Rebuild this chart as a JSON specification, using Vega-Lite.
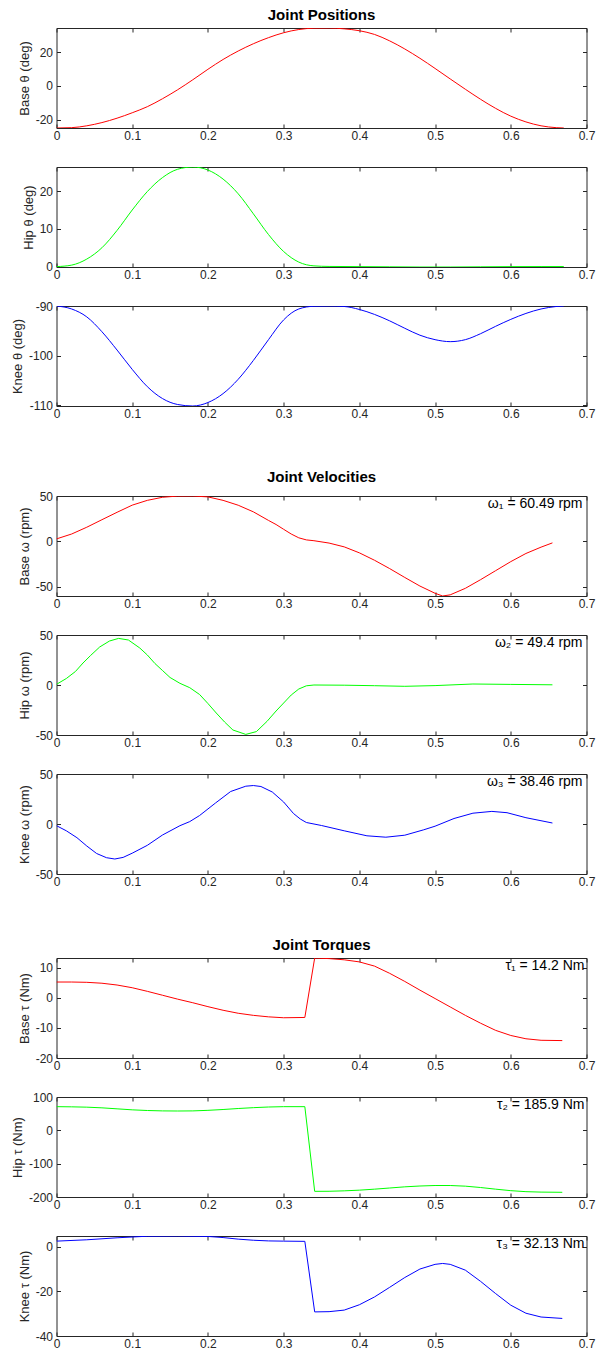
{
"$schema": "https://vega.github.io/schema/vega-lite/v6.json",
"background": "white",
"padding": {"left": 10.5, "top": 7, "right": 0, "bottom": 0},
"config": {
  "font": "Liberation Sans",
  "view": {"stroke": "#262626", "strokeWidth": 1},
  "axis": {"domain": false, "grid": false, "tickSize": -4, "tickColor": "#262626", "labelColor": "#262626", "labelFont": "Liberation Sans", "labelFontSize": 12, "titleFont": "Liberation Sans", "titleFontSize": 13, "titleFontWeight": "normal", "titleColor": "#262626", "labelPadding": 8, "titlePadding": 4, "labelFlush": false, "labelOverlap": false},
  "axisBottom": {"labelPadding": 6},
  "title": {"font": "Liberation Sans", "fontSize": 15, "fontWeight": "bold", "color": "#000000", "offset": 5, "anchor": "middle"},
  "text": {"font": "Liberation Sans", "fontSize": 14, "color": "#000000"}
},
"datasets": {
  "bp": [{"t":0,"v":-24.9},{"t":0.02,"v":-24.7},{"t":0.04,"v":-23.6},{"t":0.06,"v":-21.7},{"t":0.08,"v":-19.1},{"t":0.1,"v":-15.9},{"t":0.12,"v":-12.3},{"t":0.14,"v":-7.6},{"t":0.16,"v":-2.3},{"t":0.18,"v":3.6},{"t":0.2,"v":9.8},{"t":0.22,"v":15.6},{"t":0.24,"v":20.6},{"t":0.26,"v":24.9},{"t":0.28,"v":28.5},{"t":0.3,"v":31.4},{"t":0.32,"v":33.3},{"t":0.34,"v":34.1},{"t":0.36,"v":34.2},{"t":0.38,"v":33.7},{"t":0.4,"v":32.6},{"t":0.42,"v":30.4},{"t":0.44,"v":26.6},{"t":0.46,"v":21.8},{"t":0.48,"v":16.3},{"t":0.5,"v":10.3},{"t":0.52,"v":4.1},{"t":0.54,"v":-2},{"t":0.56,"v":-7.9},{"t":0.58,"v":-13.3},{"t":0.6,"v":-17.9},{"t":0.62,"v":-21.3},{"t":0.64,"v":-23.6},{"t":0.66,"v":-24.7},{"t":0.67,"v":-24.9}],
  "hp": [{"t":0,"v":0},{"t":0.02,"v":0.4},{"t":0.04,"v":2},{"t":0.06,"v":5},{"t":0.08,"v":9.6},{"t":0.1,"v":15},{"t":0.12,"v":19.9},{"t":0.14,"v":23.6},{"t":0.16,"v":25.8},{"t":0.18,"v":26.4},{"t":0.2,"v":25.6},{"t":0.22,"v":23.2},{"t":0.24,"v":19.3},{"t":0.26,"v":14},{"t":0.28,"v":8.5},{"t":0.3,"v":4},{"t":0.32,"v":1.2},{"t":0.34,"v":0.2},{"t":0.36,"v":0.05},{"t":0.4,"v":0},{"t":0.44,"v":-0.05},{"t":0.48,"v":-0.1},{"t":0.52,"v":-0.1},{"t":0.56,"v":-0.05},{"t":0.6,"v":0},{"t":0.64,"v":0.02},{"t":0.67,"v":0.02}],
  "kp": [{"t":0,"v":-90},{"t":0.02,"v":-90.6},{"t":0.04,"v":-92.2},{"t":0.06,"v":-95.2},{"t":0.08,"v":-98.9},{"t":0.1,"v":-102.8},{"t":0.12,"v":-106.3},{"t":0.14,"v":-108.7},{"t":0.16,"v":-109.9},{"t":0.18,"v":-110.2},{"t":0.2,"v":-109.5},{"t":0.22,"v":-107.7},{"t":0.24,"v":-104.8},{"t":0.26,"v":-101},{"t":0.28,"v":-96.8},{"t":0.3,"v":-92.8},{"t":0.32,"v":-90.6},{"t":0.34,"v":-90.05},{"t":0.36,"v":-90},{"t":0.38,"v":-90.1},{"t":0.4,"v":-90.7},{"t":0.42,"v":-91.7},{"t":0.44,"v":-93},{"t":0.46,"v":-94.5},{"t":0.48,"v":-95.9},{"t":0.5,"v":-96.8},{"t":0.52,"v":-97.2},{"t":0.54,"v":-96.8},{"t":0.56,"v":-95.6},{"t":0.58,"v":-94.1},{"t":0.6,"v":-92.7},{"t":0.62,"v":-91.5},{"t":0.64,"v":-90.6},{"t":0.66,"v":-90.1},{"t":0.67,"v":-90}],
  "bv": [{"t":0,"v":2.6},{"t":0.02,"v":8},{"t":0.04,"v":15.5},{"t":0.06,"v":23.8},{"t":0.08,"v":32},{"t":0.1,"v":39.9},{"t":0.12,"v":45.2},{"t":0.14,"v":48.6},{"t":0.16,"v":49.9},{"t":0.18,"v":50},{"t":0.2,"v":49},{"t":0.22,"v":45.2},{"t":0.24,"v":39.8},{"t":0.26,"v":32.5},{"t":0.28,"v":23},{"t":0.29,"v":18.5},{"t":0.3,"v":13.2},{"t":0.31,"v":8},{"t":0.32,"v":3.8},{"t":0.33,"v":1.5},{"t":0.34,"v":0.6},{"t":0.36,"v":-2},{"t":0.38,"v":-6.2},{"t":0.4,"v":-12.8},{"t":0.42,"v":-21},{"t":0.44,"v":-30.2},{"t":0.46,"v":-40},{"t":0.48,"v":-49.5},{"t":0.5,"v":-57.5},{"t":0.51,"v":-60.49},{"t":0.52,"v":-59.2},{"t":0.54,"v":-52},{"t":0.56,"v":-42.5},{"t":0.58,"v":-32.5},{"t":0.6,"v":-22.5},{"t":0.62,"v":-13.5},{"t":0.64,"v":-6.5},{"t":0.655,"v":-1.8}],
  "hv": [{"t":0,"v":0.7},{"t":0.013,"v":6.5},{"t":0.025,"v":13.5},{"t":0.035,"v":22},{"t":0.045,"v":29.5},{"t":0.057,"v":38},{"t":0.07,"v":44},{"t":0.082,"v":46.6},{"t":0.095,"v":45},{"t":0.11,"v":37},{"t":0.12,"v":30},{"t":0.13,"v":21.5},{"t":0.14,"v":14.5},{"t":0.15,"v":7.5},{"t":0.163,"v":1.7},{"t":0.176,"v":-2.7},{"t":0.189,"v":-9.5},{"t":0.2,"v":-18.5},{"t":0.211,"v":-28},{"t":0.222,"v":-37},{"t":0.233,"v":-45},{"t":0.25,"v":-49.4},{"t":0.264,"v":-46.6},{"t":0.278,"v":-36.4},{"t":0.29,"v":-26},{"t":0.3,"v":-18},{"t":0.31,"v":-10},{"t":0.32,"v":-4},{"t":0.33,"v":-0.8},{"t":0.34,"v":0},{"t":0.38,"v":-0.2},{"t":0.42,"v":-0.7},{"t":0.46,"v":-1.3},{"t":0.5,"v":-0.6},{"t":0.55,"v":1},{"t":0.6,"v":0.6},{"t":0.655,"v":0.2}],
  "kv": [{"t":0,"v":-1.7},{"t":0.013,"v":-6.8},{"t":0.027,"v":-13.7},{"t":0.04,"v":-22},{"t":0.053,"v":-29.5},{"t":0.066,"v":-33.7},{"t":0.077,"v":-35},{"t":0.088,"v":-33.4},{"t":0.1,"v":-29.2},{"t":0.12,"v":-21.3},{"t":0.14,"v":-11},{"t":0.163,"v":-1.7},{"t":0.176,"v":2.4},{"t":0.189,"v":8.5},{"t":0.21,"v":21},{"t":0.23,"v":32.5},{"t":0.25,"v":37.8},{"t":0.26,"v":38.46},{"t":0.27,"v":37.5},{"t":0.285,"v":32},{"t":0.3,"v":22},{"t":0.313,"v":10.5},{"t":0.322,"v":5},{"t":0.33,"v":1.5},{"t":0.35,"v":-1.5},{"t":0.38,"v":-6.8},{"t":0.41,"v":-11.8},{"t":0.435,"v":-13.2},{"t":0.46,"v":-11.2},{"t":0.485,"v":-5.8},{"t":0.5,"v":-2.2},{"t":0.525,"v":5.5},{"t":0.55,"v":10.8},{"t":0.575,"v":12.6},{"t":0.595,"v":11.3},{"t":0.62,"v":6.3},{"t":0.655,"v":1}],
  "bt": [{"t":0,"v":5.3},{"t":0.02,"v":5.3},{"t":0.04,"v":5.2},{"t":0.06,"v":4.9},{"t":0.08,"v":4.3},{"t":0.1,"v":3.4},{"t":0.12,"v":2.2},{"t":0.14,"v":0.9},{"t":0.16,"v":-0.4},{"t":0.18,"v":-1.6},{"t":0.2,"v":-2.9},{"t":0.22,"v":-4.1},{"t":0.24,"v":-5.1},{"t":0.26,"v":-5.8},{"t":0.28,"v":-6.3},{"t":0.3,"v":-6.6},{"t":0.328,"v":-6.5},{"t":0.341,"v":13.3},{"t":0.36,"v":13.1},{"t":0.38,"v":12.7},{"t":0.4,"v":12},{"t":0.42,"v":10.6},{"t":0.44,"v":8.2},{"t":0.46,"v":5.5},{"t":0.48,"v":2.6},{"t":0.5,"v":-0.2},{"t":0.52,"v":-3},{"t":0.54,"v":-5.8},{"t":0.56,"v":-8.4},{"t":0.58,"v":-10.8},{"t":0.6,"v":-12.5},{"t":0.62,"v":-13.6},{"t":0.64,"v":-14.1},{"t":0.668,"v":-14.2}],
  "ht": [{"t":0,"v":71},{"t":0.02,"v":70.5},{"t":0.04,"v":69.5},{"t":0.06,"v":67.5},{"t":0.08,"v":64.5},{"t":0.1,"v":61.5},{"t":0.12,"v":59.5},{"t":0.14,"v":58.3},{"t":0.16,"v":58},{"t":0.18,"v":58.3},{"t":0.2,"v":60},{"t":0.22,"v":62.5},{"t":0.24,"v":65.5},{"t":0.26,"v":68},{"t":0.28,"v":70},{"t":0.3,"v":71},{"t":0.328,"v":71},{"t":0.341,"v":-183},{"t":0.36,"v":-182.8},{"t":0.38,"v":-181.5},{"t":0.4,"v":-179.5},{"t":0.42,"v":-176.5},{"t":0.44,"v":-173},{"t":0.46,"v":-169.5},{"t":0.48,"v":-167},{"t":0.5,"v":-165.5},{"t":0.52,"v":-165.5},{"t":0.54,"v":-167.5},{"t":0.56,"v":-171.5},{"t":0.58,"v":-176.5},{"t":0.6,"v":-181},{"t":0.62,"v":-184},{"t":0.64,"v":-185.3},{"t":0.668,"v":-185.9}],
  "kt": [{"t":0,"v":2.5},{"t":0.04,"v":3.1},{"t":0.08,"v":4},{"t":0.12,"v":4.7},{"t":0.16,"v":4.8},{"t":0.2,"v":4.6},{"t":0.22,"v":4.1},{"t":0.24,"v":3.4},{"t":0.26,"v":2.9},{"t":0.28,"v":2.6},{"t":0.3,"v":2.5},{"t":0.328,"v":2.4},{"t":0.341,"v":-29.2},{"t":0.36,"v":-29.1},{"t":0.38,"v":-28.4},{"t":0.4,"v":-26},{"t":0.42,"v":-22.5},{"t":0.44,"v":-18.2},{"t":0.46,"v":-13.8},{"t":0.48,"v":-10},{"t":0.5,"v":-7.9},{"t":0.51,"v":-7.5},{"t":0.52,"v":-7.9},{"t":0.54,"v":-10.5},{"t":0.56,"v":-15.5},{"t":0.58,"v":-21},{"t":0.6,"v":-26.2},{"t":0.62,"v":-29.8},{"t":0.64,"v":-31.5},{"t":0.668,"v":-32.13}]
},
"spacing": 49,
"vconcat": [
 {"bounds": "flush", "spacing": 39, "vconcat": [
  {"width": 530, "height": 100, "title": "Joint Positions", "data": {"name": "bp"},
   "layer": [
    {"mark": {"type": "line", "color": "#ff0000", "strokeWidth": 1, "clip": true, "interpolate": "monotone"},
     "encoding": {"x": {"field": "t", "type": "quantitative", "scale": {"domain": [0, 0.7], "nice": false, "zero": false}, "axis": {"orient": "bottom", "values": [0,0.1,0.2,0.3,0.4,0.5,0.6,0.7], "labelExpr": "'' + datum.value", "title": null}},
                  "y": {"field": "v", "type": "quantitative", "scale": {"domain": [-24.9, 34.2], "nice": false, "zero": false}, "axis": {"orient": "left", "values": [-20,0,20], "labelExpr": "'' + datum.value", "title": "Base θ (deg)"}}}},
    {"mark": {"type": "line", "opacity": 0},
     "encoding": {"x": {"field": "t", "type": "quantitative", "axis": {"orient": "top", "values": [0,0.1,0.2,0.3,0.4,0.5,0.6,0.7], "labels": false, "title": null}},
                  "y": {"field": "v", "type": "quantitative", "axis": {"orient": "right", "values": [-20,0,20], "labels": false, "title": null}}}}
   ],
   "resolve": {"axis": {"x": "independent", "y": "independent"}}},
  {"width": 530, "height": 100, "data": {"name": "hp"},
   "layer": [
    {"mark": {"type": "line", "color": "#00ff00", "strokeWidth": 1, "clip": true, "interpolate": "monotone"},
     "encoding": {"x": {"field": "t", "type": "quantitative", "scale": {"domain": [0, 0.7], "nice": false, "zero": false}, "axis": {"orient": "bottom", "values": [0,0.1,0.2,0.3,0.4,0.5,0.6,0.7], "labelExpr": "'' + datum.value", "title": null}},
                  "y": {"field": "v", "type": "quantitative", "scale": {"domain": [-0.1, 26.4], "nice": false, "zero": false}, "axis": {"orient": "left", "values": [0,10,20], "labelExpr": "'' + datum.value", "title": "Hip θ (deg)"}}}},
    {"mark": {"type": "line", "opacity": 0},
     "encoding": {"x": {"field": "t", "type": "quantitative", "axis": {"orient": "top", "values": [0,0.1,0.2,0.3,0.4,0.5,0.6,0.7], "labels": false, "title": null}},
                  "y": {"field": "v", "type": "quantitative", "axis": {"orient": "right", "values": [0,10,20], "labels": false, "title": null}}}}
   ],
   "resolve": {"axis": {"x": "independent", "y": "independent"}}},
  {"width": 530, "height": 100, "data": {"name": "kp"},
   "layer": [
    {"mark": {"type": "line", "color": "#0000ff", "strokeWidth": 1, "clip": true, "interpolate": "monotone"},
     "encoding": {"x": {"field": "t", "type": "quantitative", "scale": {"domain": [0, 0.7], "nice": false, "zero": false}, "axis": {"orient": "bottom", "values": [0,0.1,0.2,0.3,0.4,0.5,0.6,0.7], "labelExpr": "'' + datum.value", "title": null}},
                  "y": {"field": "v", "type": "quantitative", "scale": {"domain": [-110.2, -90], "nice": false, "zero": false}, "axis": {"orient": "left", "values": [-110,-100,-90], "labelExpr": "'' + datum.value", "title": "Knee θ (deg)"}}}},
    {"mark": {"type": "line", "opacity": 0},
     "encoding": {"x": {"field": "t", "type": "quantitative", "axis": {"orient": "top", "values": [0,0.1,0.2,0.3,0.4,0.5,0.6,0.7], "labels": false, "title": null}},
                  "y": {"field": "v", "type": "quantitative", "axis": {"orient": "right", "values": [-110,-100,-90], "labels": false, "title": null}}}}
   ],
   "resolve": {"axis": {"x": "independent", "y": "independent"}}}
 ]},
 {"bounds": "flush", "spacing": 39, "vconcat": [
  {"width": 530, "height": 100, "title": "Joint Velocities", "data": {"name": "bv"},
   "layer": [
    {"mark": {"type": "line", "color": "#ff0000", "strokeWidth": 1, "clip": true},
     "encoding": {"x": {"field": "t", "type": "quantitative", "scale": {"domain": [0, 0.7], "nice": false, "zero": false}, "axis": {"orient": "bottom", "values": [0,0.1,0.2,0.3,0.4,0.5,0.6,0.7], "labelExpr": "'' + datum.value", "title": null}},
                  "y": {"field": "v", "type": "quantitative", "scale": {"domain": [-60.49, 50], "nice": false, "zero": false}, "axis": {"orient": "left", "values": [-50,0,50], "labelExpr": "'' + datum.value", "title": "Base ω (rpm)"}}}},
    {"mark": {"type": "line", "opacity": 0},
     "encoding": {"x": {"field": "t", "type": "quantitative", "axis": {"orient": "top", "values": [0,0.1,0.2,0.3,0.4,0.5,0.6,0.7], "labels": false, "title": null}},
                  "y": {"field": "v", "type": "quantitative", "axis": {"orient": "right", "values": [-50,0,50], "labels": false, "title": null}}}},
    {"data": {"values": [{"label": "ω₁ = 60.49 rpm"}]}, "mark": {"type": "text", "align": "right", "baseline": "top", "dx": -4, "dy": 1},
     "encoding": {"x": {"datum": 0.7, "type": "quantitative", "axis": null}, "y": {"datum": 50, "type": "quantitative", "axis": null}, "text": {"field": "label"}}}
   ],
   "resolve": {"axis": {"x": "independent", "y": "independent"}}},
  {"width": 530, "height": 100, "data": {"name": "hv"},
   "layer": [
    {"mark": {"type": "line", "color": "#00ff00", "strokeWidth": 1, "clip": true},
     "encoding": {"x": {"field": "t", "type": "quantitative", "scale": {"domain": [0, 0.7], "nice": false, "zero": false}, "axis": {"orient": "bottom", "values": [0,0.1,0.2,0.3,0.4,0.5,0.6,0.7], "labelExpr": "'' + datum.value", "title": null}},
                  "y": {"field": "v", "type": "quantitative", "scale": {"domain": [-50, 50], "nice": false, "zero": false}, "axis": {"orient": "left", "values": [-50,0,50], "labelExpr": "'' + datum.value", "title": "Hip ω (rpm)"}}}},
    {"mark": {"type": "line", "opacity": 0},
     "encoding": {"x": {"field": "t", "type": "quantitative", "axis": {"orient": "top", "values": [0,0.1,0.2,0.3,0.4,0.5,0.6,0.7], "labels": false, "title": null}},
                  "y": {"field": "v", "type": "quantitative", "axis": {"orient": "right", "values": [-50,0,50], "labels": false, "title": null}}}},
    {"data": {"values": [{"label": "ω₂ = 49.4 rpm"}]}, "mark": {"type": "text", "align": "right", "baseline": "top", "dx": -4, "dy": 1},
     "encoding": {"x": {"datum": 0.7, "type": "quantitative", "axis": null}, "y": {"datum": 50, "type": "quantitative", "axis": null}, "text": {"field": "label"}}}
   ],
   "resolve": {"axis": {"x": "independent", "y": "independent"}}},
  {"width": 530, "height": 100, "data": {"name": "kv"},
   "layer": [
    {"mark": {"type": "line", "color": "#0000ff", "strokeWidth": 1, "clip": true},
     "encoding": {"x": {"field": "t", "type": "quantitative", "scale": {"domain": [0, 0.7], "nice": false, "zero": false}, "axis": {"orient": "bottom", "values": [0,0.1,0.2,0.3,0.4,0.5,0.6,0.7], "labelExpr": "'' + datum.value", "title": null}},
                  "y": {"field": "v", "type": "quantitative", "scale": {"domain": [-50, 50], "nice": false, "zero": false}, "axis": {"orient": "left", "values": [-50,0,50], "labelExpr": "'' + datum.value", "title": "Knee ω (rpm)"}}}},
    {"mark": {"type": "line", "opacity": 0},
     "encoding": {"x": {"field": "t", "type": "quantitative", "axis": {"orient": "top", "values": [0,0.1,0.2,0.3,0.4,0.5,0.6,0.7], "labels": false, "title": null}},
                  "y": {"field": "v", "type": "quantitative", "axis": {"orient": "right", "values": [-50,0,50], "labels": false, "title": null}}}},
    {"data": {"values": [{"label": "ω₃ = 38.46 rpm"}]}, "mark": {"type": "text", "align": "right", "baseline": "top", "dx": -4, "dy": 1},
     "encoding": {"x": {"datum": 0.7, "type": "quantitative", "axis": null}, "y": {"datum": 50, "type": "quantitative", "axis": null}, "text": {"field": "label"}}}
   ],
   "resolve": {"axis": {"x": "independent", "y": "independent"}}}
 ]},
 {"bounds": "flush", "spacing": 39, "vconcat": [
  {"width": 530, "height": 100, "title": "Joint Torques", "data": {"name": "bt"},
   "layer": [
    {"mark": {"type": "line", "color": "#ff0000", "strokeWidth": 1, "clip": true},
     "encoding": {"x": {"field": "t", "type": "quantitative", "scale": {"domain": [0, 0.7], "nice": false, "zero": false}, "axis": {"orient": "bottom", "values": [0,0.1,0.2,0.3,0.4,0.5,0.6,0.7], "labelExpr": "'' + datum.value", "title": null}},
                  "y": {"field": "v", "type": "quantitative", "scale": {"domain": [-20, 13.3], "nice": false, "zero": false}, "axis": {"orient": "left", "values": [-20,-10,0,10], "labelExpr": "'' + datum.value", "title": "Base τ (Nm)"}}}},
    {"mark": {"type": "line", "opacity": 0},
     "encoding": {"x": {"field": "t", "type": "quantitative", "axis": {"orient": "top", "values": [0,0.1,0.2,0.3,0.4,0.5,0.6,0.7], "labels": false, "title": null}},
                  "y": {"field": "v", "type": "quantitative", "axis": {"orient": "right", "values": [-20,-10,0,10], "labels": false, "title": null}}}},
    {"data": {"values": [{"label": "τ₁ = 14.2 Nm"}]}, "mark": {"type": "text", "align": "right", "baseline": "top", "dx": -2, "dy": 1},
     "encoding": {"x": {"datum": 0.7, "type": "quantitative", "axis": null}, "y": {"datum": 13.3, "type": "quantitative", "axis": null}, "text": {"field": "label"}}}
   ],
   "resolve": {"axis": {"x": "independent", "y": "independent"}}},
  {"width": 530, "height": 100, "data": {"name": "ht"},
   "layer": [
    {"mark": {"type": "line", "color": "#00ff00", "strokeWidth": 1, "clip": true},
     "encoding": {"x": {"field": "t", "type": "quantitative", "scale": {"domain": [0, 0.7], "nice": false, "zero": false}, "axis": {"orient": "bottom", "values": [0,0.1,0.2,0.3,0.4,0.5,0.6,0.7], "labelExpr": "'' + datum.value", "title": null}},
                  "y": {"field": "v", "type": "quantitative", "scale": {"domain": [-200, 100], "nice": false, "zero": false}, "axis": {"orient": "left", "values": [-200,-100,0,100], "labelExpr": "'' + datum.value", "title": "Hip τ (Nm)"}}}},
    {"mark": {"type": "line", "opacity": 0},
     "encoding": {"x": {"field": "t", "type": "quantitative", "axis": {"orient": "top", "values": [0,0.1,0.2,0.3,0.4,0.5,0.6,0.7], "labels": false, "title": null}},
                  "y": {"field": "v", "type": "quantitative", "axis": {"orient": "right", "values": [-200,-100,0,100], "labels": false, "title": null}}}},
    {"data": {"values": [{"label": "τ₂ = 185.9 Nm"}]}, "mark": {"type": "text", "align": "right", "baseline": "top", "dx": -2, "dy": 1},
     "encoding": {"x": {"datum": 0.7, "type": "quantitative", "axis": null}, "y": {"datum": 100, "type": "quantitative", "axis": null}, "text": {"field": "label"}}}
   ],
   "resolve": {"axis": {"x": "independent", "y": "independent"}}},
  {"width": 530, "height": 100, "data": {"name": "kt"},
   "layer": [
    {"mark": {"type": "line", "color": "#0000ff", "strokeWidth": 1, "clip": true},
     "encoding": {"x": {"field": "t", "type": "quantitative", "scale": {"domain": [0, 0.7], "nice": false, "zero": false}, "axis": {"orient": "bottom", "values": [0,0.1,0.2,0.3,0.4,0.5,0.6,0.7], "labelExpr": "'' + datum.value", "title": null}},
                  "y": {"field": "v", "type": "quantitative", "scale": {"domain": [-40, 4.8], "nice": false, "zero": false}, "axis": {"orient": "left", "values": [-40,-20,0], "labelExpr": "'' + datum.value", "title": "Knee τ (Nm)"}}}},
    {"mark": {"type": "line", "opacity": 0},
     "encoding": {"x": {"field": "t", "type": "quantitative", "axis": {"orient": "top", "values": [0,0.1,0.2,0.3,0.4,0.5,0.6,0.7], "labels": false, "title": null}},
                  "y": {"field": "v", "type": "quantitative", "axis": {"orient": "right", "values": [-40,-20,0], "labels": false, "title": null}}}},
    {"data": {"values": [{"label": "τ₃ = 32.13 Nm"}]}, "mark": {"type": "text", "align": "right", "baseline": "top", "dx": -2, "dy": 1},
     "encoding": {"x": {"datum": 0.7, "type": "quantitative", "axis": null}, "y": {"datum": 4.8, "type": "quantitative", "axis": null}, "text": {"field": "label"}}}
   ],
   "resolve": {"axis": {"x": "independent", "y": "independent"}}}
 ]}
]
}
